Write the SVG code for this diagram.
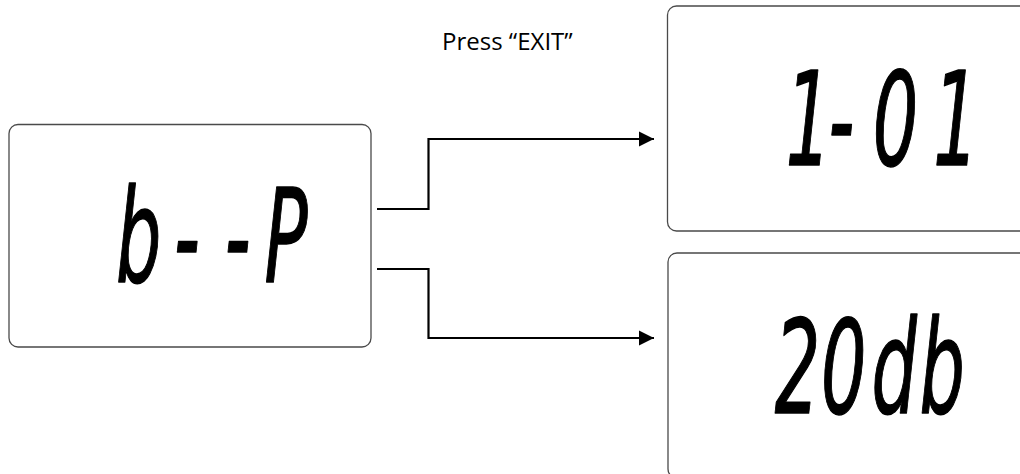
<svg xmlns="http://www.w3.org/2000/svg" width="1020" height="474" viewBox="0 0 1020 474">
<defs>
<style>
.box{fill:#fff;stroke:#4a4a4a;stroke-width:1.3}
.lcd{font-family:"DejaVu Sans","Liberation Sans",sans-serif;font-weight:normal;font-style:oblique;font-size:130px;fill:#000;stroke:#000;stroke-width:1.5;stroke-linejoin:round;text-anchor:middle}
.lbl{font-family:"Open Sans","Liberation Sans",sans-serif;font-size:24px;fill:#000}
.conn{fill:none;stroke:#000;stroke-width:2.2}
</style>
<marker id="arr" viewBox="0 0 10 10" refX="10" refY="5" markerWidth="7" markerHeight="7.5" markerUnits="strokeWidth" orient="auto">
<path d="M0,0 L10,5 L0,10 z" fill="#000"/>
</marker>
</defs>
<rect width="1020" height="474" fill="#fff"/>
<g id="node-bp">
<rect class="box" x="9" y="124.5" width="362" height="222.5" rx="9"/>
<text class="lcd" transform="scale(0.55,1)" x="252 340 432 520" y="282">b--P</text>
</g>
<g id="node-101">
<rect class="box" x="667.5" y="6" width="362" height="225" rx="9"/>
<text class="lcd" transform="scale(0.55,1)" x="1470 1530 1628 1738" y="165">1-01</text>
</g>
<g id="node-20db">
<rect class="box" x="668" y="253" width="362" height="225" rx="9"/>
<text class="lcd" transform="scale(0.55,1)" x="1450 1534 1626 1713" y="413">20db</text>
</g>
<g id="label">
<text class="lbl" x="442" y="49.5">Press “EXIT”</text>
</g>
<g id="connectors">
<path class="conn" d="M377,209 H428.5 V139 H654" marker-end="url(#arr)"/>
<path class="conn" d="M377,269 H428.5 V338 H654" marker-end="url(#arr)"/>
</g>
</svg>
